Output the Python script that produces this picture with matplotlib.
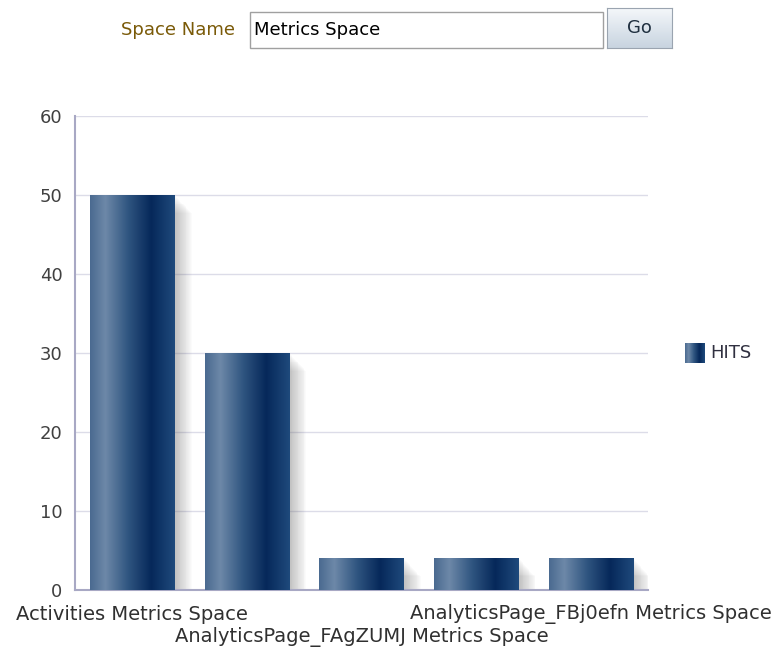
import numpy as np
import matplotlib
matplotlib.use("Agg")
import matplotlib.pyplot as plt
from matplotlib.patches import Rectangle
from matplotlib.colors import LinearSegmentedColormap

categories = ["Activities Metrics Space", "AnalyticsPage_2 Metrics Space",
              "AnalyticsPage_FAgZUMJ Metrics Space", "AnalyticsPage_4 Metrics Space",
              "AnalyticsPage_FBj0efn Metrics Space"]
hits = [50, 30, 4, 4, 4]
shown_labels = ["Activities Metrics Space", "", "AnalyticsPage_FAgZUMJ Metrics Space", "",
                "AnalyticsPage_FBj0efn Metrics Space"]
yticks = [0, 10, 20, 30, 40, 50, 60]
series_name = "HITS"

W, H = 778, 650
fig = plt.figure(figsize=(W / 100, H / 100), dpi=100)
FONT = "DejaVu Sans"
FS = 13

grad = LinearSegmentedColormap.from_list(
    "bar", [(0.0, "#4a6a90"), (0.18, "#6d88a8"), (0.45, "#2f5580"),
            (0.72, "#06285a"), (1.0, "#1f4a7c")])
gimg = np.linspace(0, 1, 256).reshape(1, -1)

ax = fig.add_axes([75 / W, 1 - 590 / H, 573 / W, 474 / H])
width = 0.735
for i, v in enumerate(hits):
    x0 = i - width / 2
    # soft shadow
    n = 20
    for k in range(n):
        off = 0.0075 * (k + 1)
        ax.add_patch(Rectangle((x0 + off, 0), width, max(v - 0.12 * k, 0),
                               facecolor="#707070", alpha=0.022, lw=0, zorder=2))
    ax.imshow(gimg, cmap=grad, aspect="auto", extent=(x0, x0 + width, 0, v),
              zorder=3, interpolation="bilinear")
ax.set_xlim(-0.5, 4.5)
ax.set_ylim(0, 60)

ax.set_yticks(yticks)
ax.set_yticklabels([str(t) for t in yticks], fontsize=FS, color="#404040", family=FONT)
ax.yaxis.grid(True, color="#dcdce8", lw=1)
ax.set_axisbelow(True)
ax.set_xticks(range(len(categories)))
ax.set_xticklabels([])
ax.tick_params(length=0, pad=9)
for s in ["top", "right"]:
    ax.spines[s].set_visible(False)
for s in ["left", "bottom"]:
    ax.spines[s].set_color("#a8a8c4")
    ax.spines[s].set_linewidth(1.5)

for i, lab in enumerate(shown_labels):
    if not lab:
        continue
    yoff = -24 / 474 if i % 4 == 0 else -47 / 474
    ax.text(i, yoff, lab, transform=ax.get_xaxis_transform(), ha="center", va="center",
            fontsize=14, color="#303030", family=FONT)

# legend
lax = fig.add_axes([685 / W, 1 - 363 / H, 20 / W, 20 / H])
lax.imshow(gimg, cmap=grad, aspect="auto", extent=(0, 1, 0, 1))
lax.axis("off")
fig.text(710 / W, 1 - 353 / H, series_name, fontsize=FS, color="#303040",
         family=FONT, va="center", ha="left")

# top form widgets
fig.text(235 / W, 1 - 30 / H, "Space Name", fontsize=FS, color="#7a5a08",
         family=FONT, ha="right", va="center")
fig.patches.append(Rectangle((250 / W, 1 - 48 / H), 353 / W, 36 / H,
                             transform=fig.transFigure, facecolor="white",
                             edgecolor="#a0a0a0", lw=1))
fig.text(254 / W, 1 - 30 / H, "Metrics Space", fontsize=FS, color="black",
         family=FONT, ha="left", va="center")
bax = fig.add_axes([607 / W, 1 - 48 / H, 65 / W, 40 / H])
bimg = np.linspace(0, 1, 64).reshape(-1, 1)
bcmap = LinearSegmentedColormap.from_list("btn", ["#c8d4e0", "#f4f7fa"])
bax.imshow(bimg, cmap=bcmap, aspect="auto", extent=(0, 1, 0, 1), origin="lower")
bax.set_xticks([]); bax.set_yticks([])
for s in bax.spines.values():
    s.set_color("#9aa4b0")
bax.text(0.5, 0.5, "Go", ha="center", va="center", fontsize=FS, color="#203040",
         family=FONT, transform=bax.transAxes)

fig.savefig("out.png", dpi=100)
